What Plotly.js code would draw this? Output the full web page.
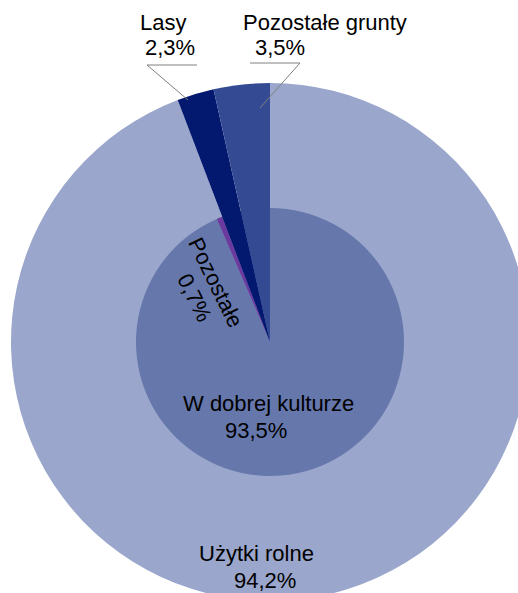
<!DOCTYPE html>
<html>
<head>
<meta charset="utf-8">
<script src="https://cdn.plot.ly/plotly-3.0.1.min.js"></script>
<style>
html,body{margin:0;padding:0;background:#fff;overflow:hidden;}
#wrap{width:518px;height:593px;overflow:hidden;position:relative;}
#chart{width:540px;height:620px;}
</style>
</head>
<body>
<div id="wrap"><div id="chart"></div></div>
<script>
// Data
const outerLabels = ['Użytki rolne', 'Lasy', 'Pozostałe grunty'];
const outerValues = [94.2, 2.3, 3.5];
const innerLabels = ['W dobrej kulturze', 'Pozostałe', 'Lasy', 'Pozostałe grunty'];
const innerValues = [93.5, 0.7, 2.3, 3.5];

// Styles
const outerColors = ['#9aa6cb', '#03196f', '#344a93'];
const innerColors = ['#6677ac', '#6a3a9e', '#03196f', '#344a93'];

const W = 540, H = 620;
const px = x => x / W;
const py = y => (H - y) / H;
const fmt = v => v.toFixed(1).replace('.', ',') + '%';

const outer = {
  type: 'pie', labels: outerLabels, values: outerValues, sort: false,
  direction: 'clockwise', rotation: 0, textinfo: 'none', hoverinfo: 'none',
  marker: {colors: outerColors, line: {width: 0}},
  domain: {x: [px(11), px(529)], y: [py(601), py(83)]},
  showlegend: false
};
const inner = {
  type: 'pie', labels: innerLabels, values: innerValues, sort: false,
  direction: 'clockwise', rotation: 0, textinfo: 'none', hoverinfo: 'none',
  marker: {colors: innerColors, line: {width: 0}},
  domain: {x: [px(136), px(404)], y: [py(476), py(208)]},
  showlegend: false
};

const font = {family: 'Liberation Sans, Arial, sans-serif', size: 22, color: '#000'};
function ann(text, x, y, angle) {
  return {text: text, x: px(x), y: py(y), xref: 'paper', yref: 'paper',
          xanchor: 'center', yanchor: 'middle', showarrow: false,
          font: font, textangle: angle || 0};
}
const annotations = [
  ann(outerLabels[0], 256, 553), ann(fmt(outerValues[0]), 265, 580),
  ann(outerLabels[1], 163, 22), ann(fmt(outerValues[1]), 170, 48),
  ann(outerLabels[2], 325, 22), ann(fmt(outerValues[2]), 280, 48),
  ann(innerLabels[0], 268, 403), ann(fmt(innerValues[0]), 256, 430),
  ann(innerLabels[1], 216, 282, 64), ann(fmt(innerValues[1]), 194, 298, 64)
];
function seg(x0, y0, x1, y1) {
  return {type: 'line', xref: 'paper', yref: 'paper',
          x0: px(x0), y0: py(y0), x1: px(x1), y1: py(y1),
          line: {color: '#808080', width: 1}};
}
const shapes = [
  seg(147, 65, 197, 65), seg(147, 65, 188, 100),
  seg(250, 63, 300, 63), seg(300, 63, 260, 108)
];

Plotly.newPlot('chart', [outer, inner], {
  width: W, height: H, margin: {l: 0, r: 0, t: 0, b: 0},
  paper_bgcolor: '#fff', annotations: annotations, shapes: shapes
}, {staticPlot: true, displayModeBar: false});
</script>
</body>
</html>
